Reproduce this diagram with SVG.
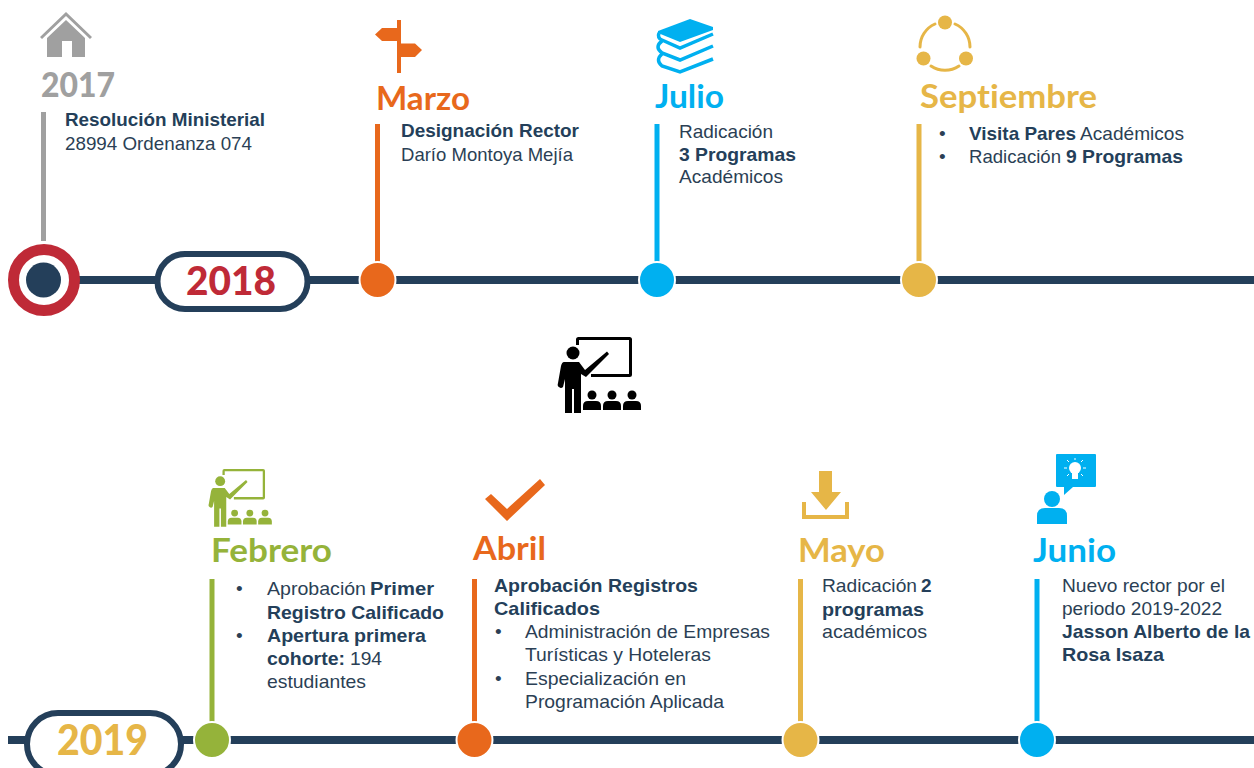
<svg xmlns="http://www.w3.org/2000/svg" width="1254" height="768" viewBox="0 0 1254 768">
<style>
text{font-family:"Liberation Sans",Arial,sans-serif;font-size:19px;fill:#2b3f55}
text.s{font-weight:700;fill:#243f5a}
text.h{font-family:Lato,"Open Sans",sans-serif;font-weight:700;font-size:33px;font-variant-ligatures:none}
text.y{font-family:Lato,"Open Sans",sans-serif;font-weight:900;font-size:40px}
.ax{stroke:#243f5a;stroke-width:8;fill:none}
.pill{fill:#fff;stroke:#243f5a;stroke-width:6}
.dot{stroke:#fff;stroke-width:2}
.st{stroke-width:5;fill:none}
.gr,text.gr{fill:#a0a0a0}
.or,text.or{fill:#e8681c}
.bl,text.bl{fill:#00b0f0}
.go,text.go{fill:#e6b647}
.li,text.li{fill:#95b33a}
</style>
<defs>
<g id="teacher">
<path d="M21 8V2.500Q21 0 23.500 0H74.500Q77 0 77 2.500V37.500Q77 40 74.500 40H36V37H74V3H24V8Z"/>
<circle cx="18" cy="16" r="6.500"/>
<path d="M9 25H24L30 33L52 14.500L54 17L31 40L26 37V76H19V52H17V76H10V42L8 50Q6 52 4 50Q2 49 3 46L6 29Q7 25 9 25Z"/>
<g id="kid"><circle cx="37" cy="58" r="4.500"/><path d="M28 73V69Q28 64 33 64H41Q46 64 46 69V73Z"/></g>
<use href="#kid" x="20"/><use href="#kid" x="40"/>
</g>
</defs>

<g id="connectors">
<line class="ax" x1="62" y1="280" x2="1254" y2="280"/>
<line class="ax" x1="8" y1="740" x2="1254" y2="740"/>
<line x1="43.500" y1="112" x2="43.500" y2="241" stroke="#a0a0a0" stroke-width="5"/>
<line class="st" x1="377.500" y1="124" x2="377.500" y2="270" stroke="#e8681c"/>
<line class="st" x1="657" y1="124" x2="657" y2="270" stroke="#00b0f0"/>
<line class="st" x1="919" y1="124" x2="919" y2="270" stroke="#e6b647"/>
<line class="st" x1="212" y1="579" x2="212" y2="730" stroke="#95b33a"/>
<line class="st" x1="474.500" y1="579" x2="474.500" y2="730" stroke="#e8681c"/>
<line class="st" x1="800.500" y1="579" x2="800.500" y2="730" stroke="#e6b647"/>
<line class="st" x1="1037" y1="579" x2="1037" y2="730" stroke="#00b0f0"/>
</g>

<g id="node-2017">
<path class="gr" d="M66 12L92 37L90 39L66 16L42 39L40 37Z"/>
<path class="gr" d="M66 20L85 38V57H72V41H62V57H47V38Z"/>
<text x="41" y="97" class="y gr" style="font-size:34px" textLength="74" lengthAdjust="spacingAndGlyphs">2017</text>
<text x="65" y="126" class="s" textLength="200" lengthAdjust="spacingAndGlyphs">Resolución Ministerial</text>
<text x="65" y="150" textLength="187" lengthAdjust="spacingAndGlyphs">28994 Ordenanza 074</text>
<circle cx="44" cy="280" r="30.500" fill="#fff" stroke="#bf2a37" stroke-width="11"/>
<circle cx="43.500" cy="280" r="17.500" fill="#243f5a"/>
</g>

<g id="pill-2018">
<rect class="pill" x="157.500" y="254" width="150" height="55" rx="27.500"/>
<text x="186" y="295" class="y" style="fill:#bf2a37" textLength="90" lengthAdjust="spacingAndGlyphs">2018</text>
</g>

<g id="node-marzo">
<rect class="or" x="397" y="20" width="4" height="53"/>
<path class="or" d="M397 28H382L375 34.500L382 41H397Z"/>
<path class="or" d="M397 43.500H415L422 50L415 57H397Z"/>
<text x="376" y="110" class="h or" textLength="94" lengthAdjust="spacingAndGlyphs">Marzo</text>
<text x="401" y="137" class="s" textLength="178" lengthAdjust="spacingAndGlyphs">Designación Rector</text>
<text x="401" y="161" textLength="172" lengthAdjust="spacingAndGlyphs">Darío Montoya Mejía</text>
<circle class="dot or" cx="377.500" cy="280" r="18"/>
</g>

<g id="node-julio">
<path class="bl" d="M690 19L713 27V30L680 42L658 33V31Z"/>
<path fill="none" stroke="#00b0f0" stroke-width="3.500" d="M659 33Q657 38 662 40L680 48L713 34M662 41Q654 47 662 53L680 60L713 46M662 54Q655 60 662 66L680 72L713 59"/>
<text x="655" y="108" class="h bl" textLength="69" lengthAdjust="spacingAndGlyphs">Julio</text>
<text x="679" y="138" textLength="94" lengthAdjust="spacingAndGlyphs">Radicación</text>
<text x="679" y="161" class="s" textLength="117" lengthAdjust="spacingAndGlyphs">3 Programas</text>
<text x="679" y="183" textLength="104" lengthAdjust="spacingAndGlyphs">Académicos</text>
<circle class="dot bl" cx="657" cy="280" r="18"/>
</g>

<g id="node-septiembre">
<circle class="go" cx="945" cy="22.500" r="7"/><circle class="go" cx="923.500" cy="58.500" r="7"/><circle class="go" cx="966" cy="58.500" r="7"/>
<path fill="none" stroke="#e6b647" stroke-width="3" stroke-linecap="round" d="M935 24A25 25 0 0 0 920 47M955 24A25 25 0 0 1 970 47M931 66A25 25 0 0 0 959 66"/>
<text x="920" y="108" class="h go" textLength="177" lengthAdjust="spacingAndGlyphs">Septiembre</text>
<text x="939" y="140">•</text>
<text x="969" y="140" class="s" textLength="107" lengthAdjust="spacingAndGlyphs">Visita Pares</text>
<text x="1080" y="140" textLength="104" lengthAdjust="spacingAndGlyphs">Académicos</text>
<text x="939" y="163">•</text>
<text x="969" y="163" textLength="92" lengthAdjust="spacingAndGlyphs">Radicación</text>
<text x="1066" y="163" class="s" textLength="117" lengthAdjust="spacingAndGlyphs">9 Programas</text>
<circle class="dot go" cx="919" cy="280" r="18"/>
</g>

<g id="node-center"><use href="#teacher" transform="translate(555 337)"/></g>

<g id="pill-2019">
<rect class="pill" x="27" y="713" width="154" height="62" rx="31"/>
<text x="57" y="755" class="y go" style="font-size:42px" textLength="91" lengthAdjust="spacingAndGlyphs">2019</text>
</g>

<g id="node-febrero">
<use href="#teacher" fill="#95b33a" transform="translate(206.500 469) scale(.76)"/>
<text x="211" y="562" class="h li" textLength="121" lengthAdjust="spacingAndGlyphs">Febrero</text>
<text x="236" y="595">•</text>
<text x="267" y="595" textLength="99" lengthAdjust="spacingAndGlyphs">Aprobación</text>
<text x="370" y="595" class="s" textLength="64" lengthAdjust="spacingAndGlyphs">Primer</text>
<text x="267" y="619" class="s" textLength="177" lengthAdjust="spacingAndGlyphs">Registro Calificado</text>
<text x="236" y="642">•</text>
<text x="267" y="642" class="s" textLength="159" lengthAdjust="spacingAndGlyphs">Apertura primera</text>
<text x="267" y="665" class="s" textLength="78" lengthAdjust="spacingAndGlyphs">cohorte:</text>
<text x="350" y="665" textLength="32" lengthAdjust="spacingAndGlyphs">194</text>
<text x="267" y="688" textLength="99" lengthAdjust="spacingAndGlyphs">estudiantes</text>
<circle class="dot li" cx="212" cy="740" r="18"/>
</g>

<g id="node-abril">
<path class="or" d="M491 494L507 509L540 479L545 485L507 521L485 499Z"/>
<text x="473" y="560" class="h or" textLength="73" lengthAdjust="spacingAndGlyphs">Abril</text>
<text x="494" y="592" class="s" textLength="204" lengthAdjust="spacingAndGlyphs">Aprobación Registros</text>
<text x="494" y="615" class="s" textLength="106" lengthAdjust="spacingAndGlyphs">Calificados</text>
<text x="495" y="638">•</text>
<text x="525" y="638" textLength="245" lengthAdjust="spacingAndGlyphs">Administración de Empresas</text>
<text x="525" y="661" textLength="186" lengthAdjust="spacingAndGlyphs">Turísticas y Hoteleras</text>
<text x="495" y="685">•</text>
<text x="525" y="685" textLength="161" lengthAdjust="spacingAndGlyphs">Especialización en</text>
<text x="525" y="708" textLength="199" lengthAdjust="spacingAndGlyphs">Programación Aplicada</text>
<circle class="dot or" cx="474.500" cy="740" r="18"/>
</g>

<g id="node-mayo">
<path class="go" d="M819 471H832V492H841L826 510L811 492H819Z"/>
<path class="go" d="M802 502H806V515H845V502H849V519H802Z"/>
<text x="798" y="562" class="h go" textLength="87" lengthAdjust="spacingAndGlyphs">Mayo</text>
<text x="822" y="592" textLength="95" lengthAdjust="spacingAndGlyphs">Radicación</text>
<text x="921" y="592" class="s">2</text>
<text x="822" y="616" class="s" textLength="102" lengthAdjust="spacingAndGlyphs">programas</text>
<text x="822" y="638" textLength="105" lengthAdjust="spacingAndGlyphs">académicos</text>
<circle class="dot go" cx="800.500" cy="740" r="18"/>
</g>

<g id="node-junio">
<path class="bl" d="M1057 454H1095Q1096 454 1096 455V486Q1096 487 1095 487H1073L1064 495V487H1057Q1056 487 1056 486V455Q1056 454 1057 454Z"/>
<circle cx="1075" cy="468" r="6" fill="#fff"/><rect x="1072" y="473" width="6" height="6" fill="#fff"/>
<path fill="none" stroke="#fff" stroke-width="1" d="M1064 468H1067M1083 468H1086M1067 460L1069 462M1083 460L1081 462M1075 458V460M1067 476L1069 474M1083 476L1081 474"/>
<circle class="bl" cx="1052" cy="499" r="8"/>
<path class="bl" d="M1037 524V516Q1037 508 1045 508H1059Q1067 508 1067 516V524Z"/>
<text x="1033" y="562" class="h bl" textLength="83" lengthAdjust="spacingAndGlyphs">Junio</text>
<text x="1062" y="592" textLength="163" lengthAdjust="spacingAndGlyphs">Nuevo rector por el</text>
<text x="1062" y="615" textLength="160" lengthAdjust="spacingAndGlyphs">periodo 2019-2022</text>
<text x="1062" y="638" class="s" textLength="188" lengthAdjust="spacingAndGlyphs">Jasson Alberto de la</text>
<text x="1062" y="661" class="s" textLength="102" lengthAdjust="spacingAndGlyphs">Rosa Isaza</text>
<circle class="dot bl" cx="1037" cy="740" r="18"/>
</g>
</svg>
